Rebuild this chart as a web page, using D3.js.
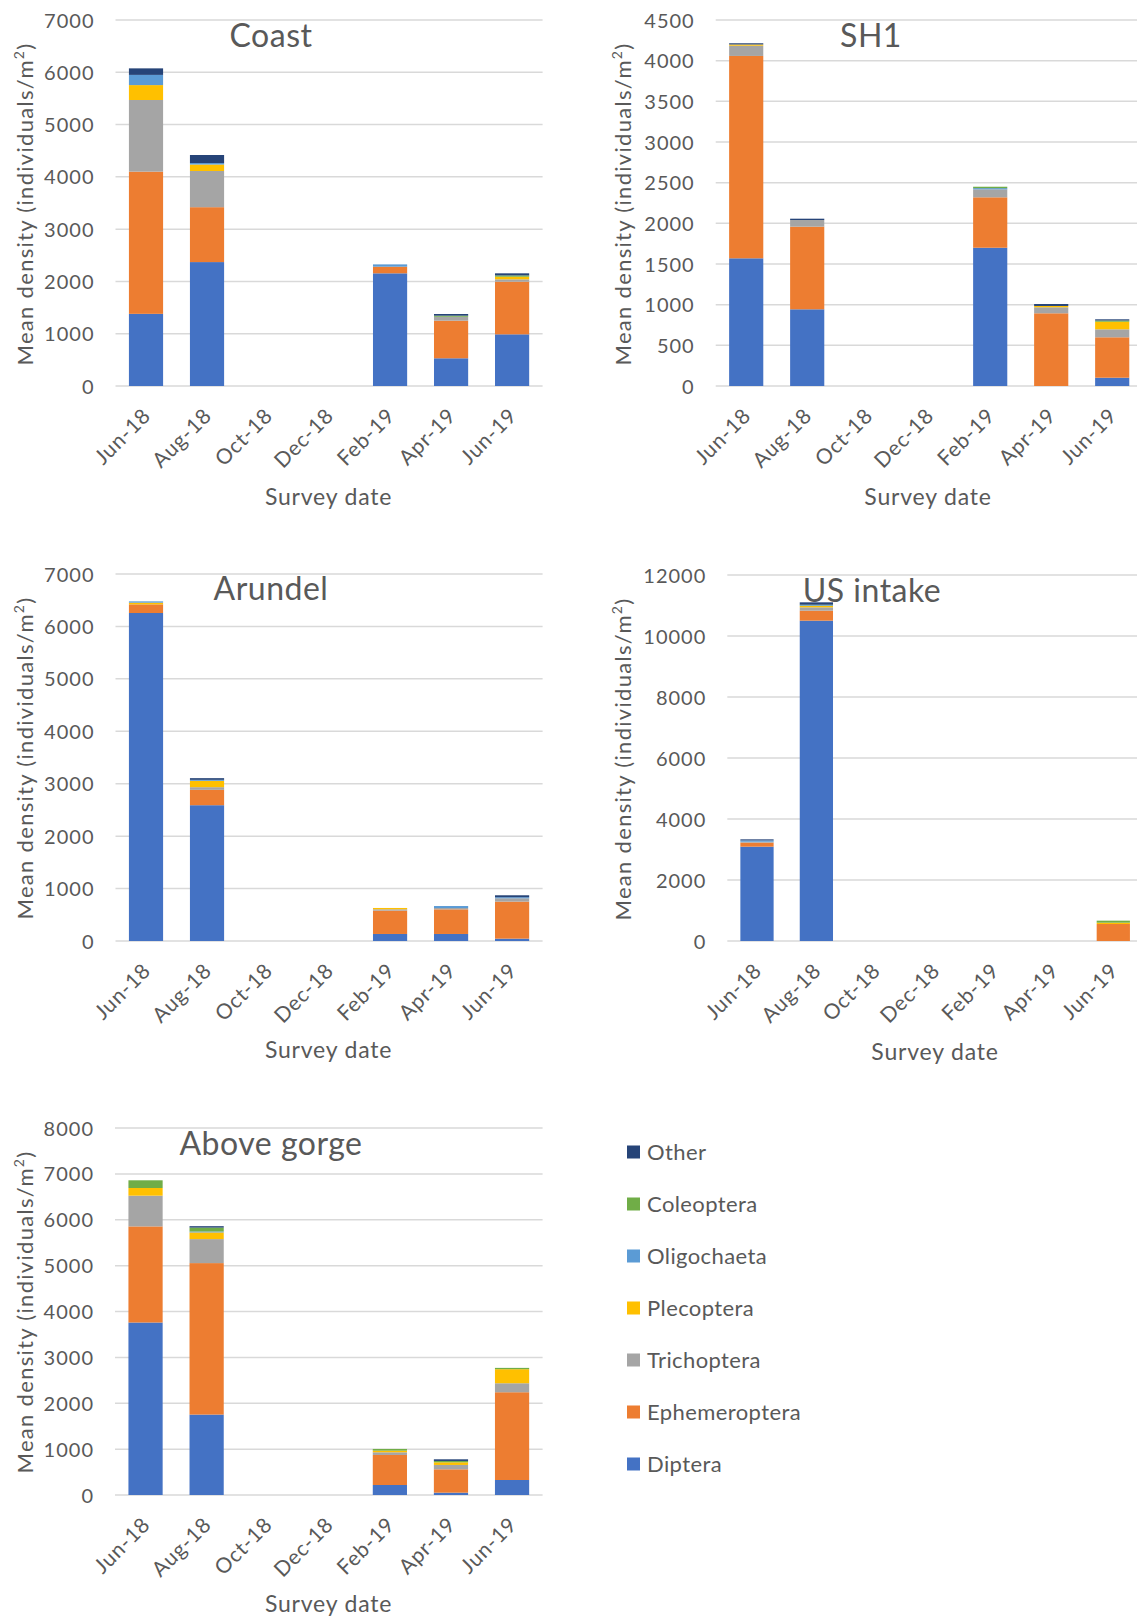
<!DOCTYPE html>
<html>
<head>
<meta charset="utf-8">
<script src="https://cdn.jsdelivr.net/npm/d3@7"></script>
<style>
  html, body { margin: 0; padding: 0; background: #ffffff; }
  svg { display: block; font-family: Lato, "Open Sans", sans-serif; }
  text { fill: #595959; }
</style>
</head>
<body>
<svg id="chart" width="1137" height="1619"></svg>
<script>
// Survey dates on the category axis
const dates = ["Jun-18", "Aug-18", "Oct-18", "Dec-18", "Feb-19", "Apr-19", "Jun-19"];

// Taxa, stacked bottom to top
const taxa = ["Diptera", "Ephemeroptera", "Trichoptera", "Plecoptera", "Oligochaeta", "Coleoptera", "Other"];
const taxaColors = ["#4472C4", "#ED7D31", "#A5A5A5", "#FFC000", "#5B9BD5", "#70AD47", "#264478"];

// Mean density (individuals/m²), one row per taxon, one column per survey date
const coast = [
  [1380, 2370, 0, 0, 2155,  530,  988],   // Diptera
  [2720, 1050, 0, 0,  127,  719, 1007],   // Ephemeroptera
  [1370,  692, 0, 0,    0,   76,   45],   // Trichoptera
  [ 285,  124, 0, 0,    0,    0,   50],   // Plecoptera
  [ 195,   29, 0, 0,   44,    0,    0],   // Oligochaeta
  [   0,    0, 0, 0,    0,   20,   25],   // Coleoptera
  [ 125,  153, 0, 0,    0,   32,   40]    // Other
];
const sh1 = [
  [1570,  943, 0, 0, 1700,    0,  102],
  [2488, 1016, 0, 0,  620,  894,  497],
  [ 126,   82, 0, 0,   98,   74,   98],
  [  15,    0, 0, 0,    0,   16,   93],
  [   0,    0, 0, 0,   15,    0,    0],
  [   0,    0, 0, 0,   17,    0,   15],
  [  15,   16, 0, 0,    0,   24,   15]
];
const arundel = [
  [6256, 2590, 0, 0, 134, 134,  45],
  [ 165,  293, 0, 0, 445, 470, 706],
  [   0,   51, 0, 0,  26,  25,  64],
  [  32,  121, 0, 0,  25,   0,   0],
  [  25,   19, 0, 0,   0,  38,  20],
  [   0,    0, 0, 0,   0,   0,   0],
  [   0,   32, 0, 0,   0,   0,  37]
];
const usIntake = [
  [3093, 10503, 0, 0, 0, 0,   0],
  [ 131,   328, 0, 0, 0, 0, 557],
  [  30,   109, 0, 0, 0, 0,   0],
  [   0,    45, 0, 0, 0, 0,  44],
  [  44,    25, 0, 0, 0, 0,   0],
  [   0,    15, 0, 0, 0, 0,  66],
  [  35,    79, 0, 0, 0, 0,   0]
];
const aboveGorge = [
  [3760, 1753, 0, 0, 218,  51,  327],
  [2095, 3302, 0, 0, 655, 509, 1913],
  [ 670,  523, 0, 0,  58,  95,  196],
  [ 167,  146, 0, 0,  36,  58,  306],
  [   0,   20, 0, 0,   0,   0,    0],
  [ 168,   85, 0, 0,  37,  29,   29],
  [   0,   31, 0, 0,   0,  36,    0]
];

// Panel titles and value axis extents
const siteNames = ["Coast", "SH1", "Arundel", "US intake", "Above gorge"];
const siteData = [coast, sh1, arundel, usIntake, aboveGorge];
const siteMax = [7000, 4500, 7000, 12000, 8000];
const siteStep = [1000, 500, 1000, 2000, 1000];

const axisTitle = "Mean density (individuals/m";
const xTitle = "Survey date";

// Panel geometry: plot area, grid extent, and text anchors
const panels = [
  { x0: 115.5, x1: 542.6, gx1: 542.6, yTop: 20,   yZero: 386,  titleX: 271, titleY: 47,   yTitleX: 25,  yTitleY: 204,  xTitleX: 328.6, xTitleY: 505 },
  { x0: 715.7, x1: 1142.7, gx1: 1137, yTop: 20,   yZero: 386,  titleX: 871, titleY: 47,   yTitleX: 623, yTitleY: 204,  xTitleX: 928,   xTitleY: 505 },
  { x0: 115.5, x1: 542.6, gx1: 542.6, yTop: 574,  yZero: 941,  titleX: 271, titleY: 600,  yTitleX: 25,  yTitleY: 758,  xTitleX: 328.6, xTitleY: 1058 },
  { x0: 727.3, x1: 1143,  gx1: 1137,  yTop: 575,  yZero: 941,  titleX: 872, titleY: 602,  yTitleX: 623, yTitleY: 759,  xTitleX: 935,   xTitleY: 1060 },
  { x0: 115,   x1: 542.6, gx1: 542.6, yTop: 1128, yZero: 1495, titleX: 271, titleY: 1155, yTitleX: 25,  yTitleY: 1312, xTitleX: 328.6, xTitleY: 1612 }
];

const svg = d3.select("#chart");
const color = d3.scaleOrdinal().domain(taxa).range(taxaColors);

panels.forEach((p, i) => {
  const values = siteData[i];
  const g = svg.append("g");

  const x = d3.scaleBand().domain(dates).range([p.x0, p.x1]).paddingInner(0.44).paddingOuter(0.22);
  const y = d3.scaleLinear().domain([0, siteMax[i]]).range([p.yZero, p.yTop]);
  const ticks = d3.range(0, siteMax[i] + 1, siteStep[i]);

  // horizontal gridlines (the zero line doubles as the category axis)
  g.append("g").selectAll("line").data(ticks).join("line")
    .attr("x1", p.x0).attr("x2", p.gx1)
    .attr("y1", d => y(d)).attr("y2", d => y(d))
    .attr("stroke", "#d9d9d9").attr("stroke-width", 1.5);

  // value axis labels
  const yAxis = d3.axisLeft(y).tickValues(ticks).tickSize(0).tickPadding(0).tickFormat(d3.format("d"));
  const ya = g.append("g").attr("transform", `translate(${p.x0 - 21},0)`).call(yAxis);
  ya.select(".domain").remove();
  ya.selectAll("text").attr("font-size", 20).attr("fill", "#595959")
    .attr("font-family", "Lato, sans-serif").attr("letter-spacing", 1)
    .attr("dy", "0.35em");

  // stacked bars
  const rows = dates.map((d, j) => {
    const r = { date: d };
    taxa.forEach((t, k) => { r[t] = values[k][j]; });
    return r;
  });
  const series = d3.stack().keys(taxa)(rows);
  g.append("g").selectAll("g").data(series).join("g")
    .attr("fill", s => color(s.key))
    .selectAll("rect").data(s => s.filter(d => d[1] - d[0] > 0)).join("rect")
    .attr("x", d => x(d.data.date))
    .attr("width", x.bandwidth())
    .attr("y", d => y(d[1]))
    .attr("height", d => y(d[0]) - y(d[1]));

  // category labels, rotated
  const xAxis = d3.axisBottom(x).tickSize(0).tickPadding(0);
  const xa = g.append("g").attr("transform", `translate(0,${p.yZero})`).call(xAxis);
  xa.select(".domain").remove();
  xa.selectAll("text")
    .attr("font-size", 21).attr("fill", "#595959").attr("font-family", "Lato, sans-serif")
    .attr("letter-spacing", 0.8)
    .attr("text-anchor", "end").attr("dy", null).attr("y", null)
    .attr("transform", "translate(6,31) rotate(-45)");

  // panel title
  g.append("text").attr("x", p.titleX).attr("y", p.titleY)
    .attr("text-anchor", "middle").attr("font-size", 32).attr("letter-spacing", 0.5)
    .text(siteNames[i]);

  // value axis title with superscript
  const yt = g.append("text")
    .attr("transform", `translate(${p.yTitleX},${p.yTitleY}) rotate(-90)`)
    .attr("text-anchor", "middle").attr("dy", "0.35em").attr("font-size", 22)
    .attr("letter-spacing", 1.3);
  yt.append("tspan").text(axisTitle);
  yt.append("tspan").attr("font-size", 14).attr("dy", "-0.6em").text("2");
  yt.append("tspan").attr("dy", "0.4em").text(")");

  // category axis title
  g.append("text").attr("x", p.xTitleX).attr("y", p.xTitleY)
    .attr("text-anchor", "middle").attr("font-size", 23).attr("letter-spacing", 0.8)
    .text(xTitle);
});

// legend, top entry is the top of the stack
const legend = svg.append("g").attr("transform", "translate(627,1152)");
const legendItems = taxa.slice().reverse();
const li = legend.selectAll("g").data(legendItems).join("g")
  .attr("transform", (d, k) => `translate(0,${k * 52})`);
li.append("rect").attr("x", 0).attr("y", -6.5).attr("width", 13).attr("height", 13)
  .attr("fill", d => color(d));
li.append("text").attr("x", 20).attr("dy", "0.35em").attr("font-size", 22)
  .attr("letter-spacing", 0.4).text(d => d);
</script>
</body>
</html>
